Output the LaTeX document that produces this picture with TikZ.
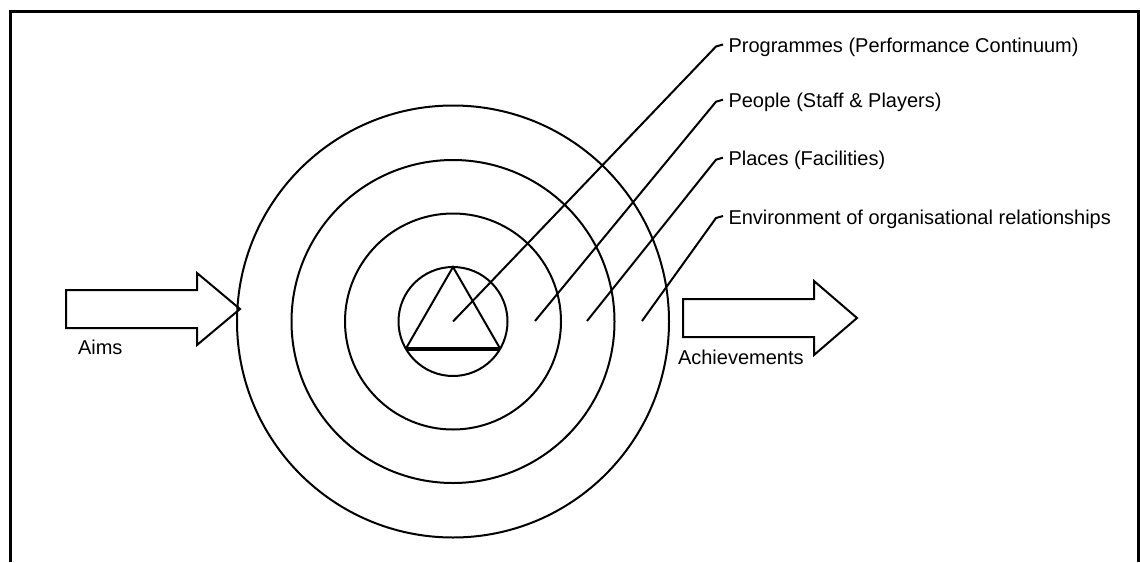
\documentclass[tikz,border=0pt]{standalone}
\usepackage{fontspec}
\setmainfont{Liberation Sans}
\usepackage{tikz}

\begin{document}
\begin{tikzpicture}[x=0.5pt,y=-0.5pt,line width=1pt,
  lbl/.style={anchor=base west,inner sep=0pt,font=\fontsize{10}{12}\selectfont}]
\useasboundingbox (0,0) rectangle (1140,562);

\draw[line width=1.5pt] (10.5,562) -- (10.5,11) -- (1138,11) -- (1138,562);

\coordinate (c) at (453,321.5);
\draw (c) circle[radius=54.5];
\draw (c) circle[radius=108];
\draw (c) circle[radius=161.5];
\draw (c) circle[radius=216];

\draw (405.8,348.75) -- (453,267) -- (500.2,348.75);
\draw[line width=2pt] (405.8,348.75) -- (500.2,348.75);

\draw (66,290) -- (197,290) -- (197,273) -- (240,309) -- (197,345) -- (197,328) -- (66,328) -- cycle;
\draw (683,299) -- (814,299) -- (814,281) -- (857,318) -- (814,355) -- (814,337) -- (683,337) -- cycle;

\node[lbl] (aims) at (77,354) {Aims};
\node[lbl] (achv) at (677,364) {Achievements};

\node[lbl] (prog) at (727.5,52.5) {Programmes (Performance Continuum)};
\node[lbl] (people) at (727.5,107.7) {People (Staff \& Players)};
\node[lbl] (places) at (727.5,165.7) {Places (Facilities)};
\node[lbl] (env) at (727.5,224) {Environment of organisational relationships};

\coordinate (pprog) at (453,321.5);
\coordinate (ppeople) at (535,321);
\coordinate (pplaces) at (587,321);
\coordinate (penv) at (642,321);

\draw (pprog) -- ([shift={(-11.5,-6)}]prog.base west) -- ([shift={(-4.5,-8)}]prog.base west);
\draw (ppeople) -- ([shift={(-11.5,-6)}]people.base west) -- ([shift={(-4.5,-8)}]people.base west);
\draw (pplaces) -- ([shift={(-11.5,-6)}]places.base west) -- ([shift={(-4.5,-8)}]places.base west);
\draw (penv) -- ([shift={(-11.5,-6)}]env.base west) -- ([shift={(-4.5,-8)}]env.base west);

\end{tikzpicture}
\end{document}
